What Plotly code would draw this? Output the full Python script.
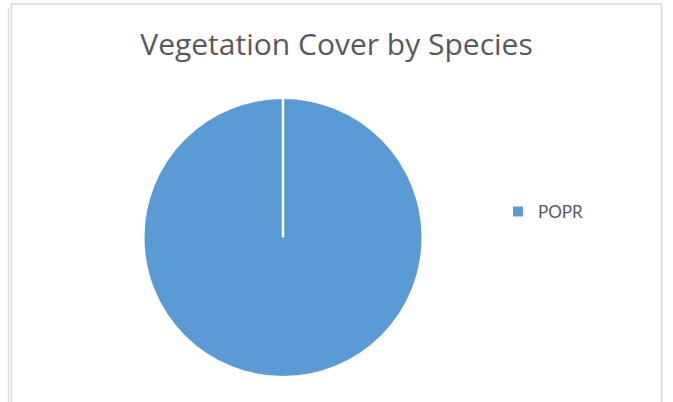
import plotly.graph_objects as go

# Data
species = ["POPR"]
cover = [100]

W, H = 673, 402
SLICE_COLOR = "#5B9BD5"
TEXT_COLOR = "#595959"

# pie geometry in pixels (centre / radius) -> domain
cx, cy, r = 283, 237.5, 139.5
dom_x = [(cx - r) / W, (cx + r) / W]
dom_y = [(H - cy - r) / H, (H - cy + r) / H]

fig = go.Figure()
fig.add_trace(go.Pie(
    labels=species,
    values=cover,
    sort=False,
    direction="clockwise",
    rotation=0,
    textinfo="none",
    hoverinfo="label+value",
    marker=dict(colors=[SLICE_COLOR], line=dict(color="white", width=2)),
    domain=dict(x=dom_x, y=dom_y),
    showlegend=True,
))

# slice border from centre to 12 o'clock (single-slice pie seam)
fig.add_shape(type="line", xref="paper", yref="paper",
              x0=(dom_x[0] + dom_x[1]) / 2, x1=(dom_x[0] + dom_x[1]) / 2,
              y0=(dom_y[0] + dom_y[1]) / 2, y1=dom_y[1],
              line=dict(color="white", width=2.5), layer="above")

# chart frame
fig.add_shape(type="rect", xref="paper", yref="paper",
              x0=11.5 / W, x1=661.5 / W, y0=-10 / H, y1=1 - 4 / H,
              line=dict(color="#D9D9D9", width=1.5), layer="below")
fig.add_shape(type="line", xref="paper", yref="paper",
              x0=8.5 / W, x1=8.5 / W, y0=-10 / H, y1=1 - 8 / H,
              line=dict(color="#DDDDDD", width=1.5), layer="below")

fig.update_layout(
    width=W, height=H,
    margin=dict(l=0, r=0, t=0, b=0),
    paper_bgcolor="white",
    plot_bgcolor="white",
    font=dict(family="Lato, 'Open Sans', sans-serif", color=TEXT_COLOR),
    title=dict(text="Vegetation Cover by Species", x=0.5, xanchor="center",
               xref="paper", y=1 - 44 / H, yanchor="middle", yref="paper",
               font=dict(family="'Open Sans', sans-serif", size=30, color=TEXT_COLOR)),
    legend=dict(x=498 / W, y=1 - 212 / H, xanchor="left", yanchor="middle",
                font=dict(size=17, color=TEXT_COLOR), bgcolor="rgba(0,0,0,0)"),
)

fig.write_html("out.html")
